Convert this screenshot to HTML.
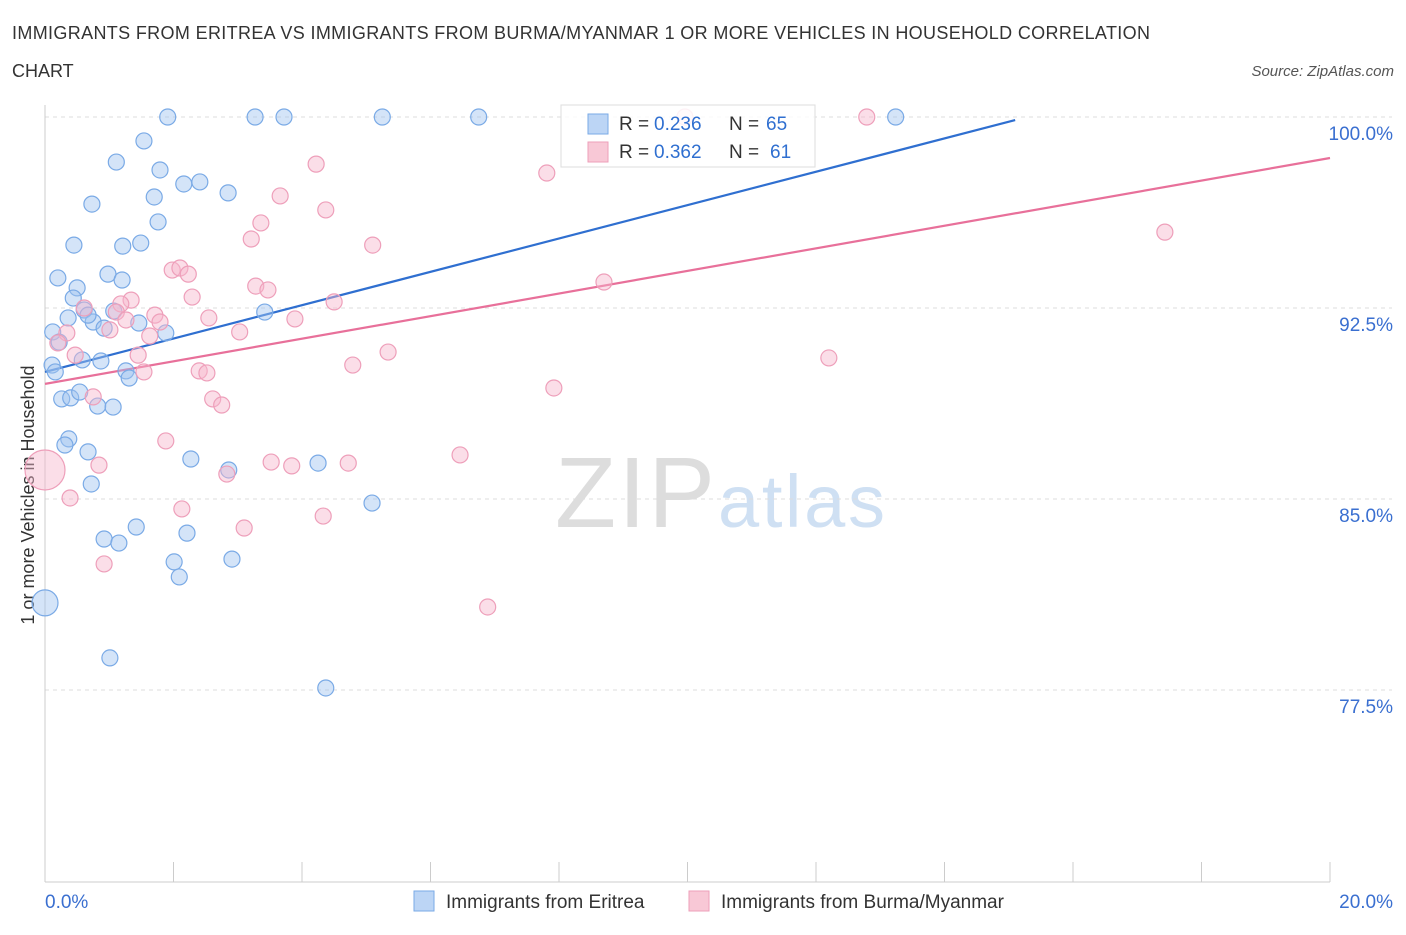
<!DOCTYPE html>
<html><head><meta charset="utf-8"><style>
body{margin:0;background:#fff;font-family:"Liberation Sans",sans-serif;}
svg text{font-family:"Liberation Sans",sans-serif;}
</style></head><body>
<svg id="chart" width="1406" height="930">
<text x="12" y="39" font-size="18" fill="#333" textLength="1138">IMMIGRANTS FROM ERITREA VS IMMIGRANTS FROM BURMA/MYANMAR 1 OR MORE VEHICLES IN HOUSEHOLD CORRELATION</text>
<text x="12" y="77" font-size="18" fill="#333">CHART</text>
<text x="1394" y="76" font-size="15" fill="#555" font-style="italic" text-anchor="end">Source: ZipAtlas.com</text>
<text x="34" y="495" font-size="18" fill="#333" text-anchor="middle" transform="rotate(-90 34 495)">1 or more Vehicles in Household</text>
<text x="555" y="527" font-size="100" fill="#ddd" font-family="Liberation Serif" textLength="160">ZIP</text>
<text x="718" y="527" font-size="74" fill="#cfe0f3" textLength="167">atlas</text>
<g id="grid"></g><g id="axes"></g><g id="lines"></g><g id="pts"></g>
<g>
<rect x="561" y="105" width="254" height="62" fill="rgba(255,255,255,0.85)" stroke="#ddd"/>
<rect x="588" y="114" width="20" height="20" fill="#bcd5f5" stroke="#7aaae6"/>
<text x="619" y="130" font-size="19" fill="#333">R =</text>
<text x="654" y="130" font-size="19" fill="#2f6fd0">0.236</text>
<text x="729" y="130" font-size="19" fill="#333">N =</text>
<text x="766" y="130" font-size="19" fill="#2f6fd0">65</text>
<rect x="588" y="142" width="20" height="20" fill="#f8c8d6" stroke="#ee9fba"/>
<text x="619" y="158" font-size="19" fill="#333">R =</text>
<text x="654" y="158" font-size="19" fill="#2f6fd0">0.362</text>
<text x="729" y="158" font-size="19" fill="#333">N =</text>
<text x="770" y="158" font-size="19" fill="#2f6fd0">61</text>
</g>
<g>
<rect x="414" y="891" width="20" height="20" fill="#bcd5f5" stroke="#7aaae6"/>
<text x="446" y="908" font-size="19" fill="#333">Immigrants from Eritrea</text>
<rect x="689" y="891" width="20" height="20" fill="#f8c8d6" stroke="#ee9fba"/>
<text x="721" y="908" font-size="19" fill="#333">Immigrants from Burma/Myanmar</text>
</g>
</svg>
<script>
const yTicks=[100,92.5,85,77.5];
const yTickLabels=["100.0%","92.5%","85.0%","77.5%"];
const xTickLabels=["0.0%","20.0%"];
const blueX=[1.91,3.27,3.72,5.25,6.75,13.24,1.54,1.11,1.79,2.16,2.41,2.85,1.70,0.73,1.76,0.45,1.21,1.49,0.20,0.98,1.20,0.50,0.44,0.61,0.36,0.75,0.67,1.07,0.92,1.46,1.88,3.42,0.12,0.22,0.11,0.16,0.58,0.87,1.26,1.31,0.26,0.40,0.82,1.06,0.54,0.37,0.31,0.67,0.72,2.27,2.86,4.25,5.09,1.42,0.92,1.15,2.21,2.01,2.91,2.09,1.01,4.37];
const blueY=[100,100,100,100,100,100,99.06,98.23,97.92,97.37,97.45,97.02,96.86,96.58,95.88,94.97,94.93,95.05,93.68,93.83,93.60,93.29,92.89,92.42,92.11,91.95,92.22,92.38,91.71,91.91,91.52,92.34,91.56,91.16,90.26,89.99,90.46,90.42,90.03,89.75,88.93,88.97,88.65,88.61,89.20,87.36,87.12,86.85,85.59,86.57,86.14,86.41,84.84,83.90,83.43,83.27,83.66,82.53,82.64,81.94,78.76,77.58];
const pinkX=[9.96,12.79,4.22,7.81,3.66,4.37,3.36,3.21,5.10,17.43,1.98,2.10,2.23,3.28,3.47,8.70,2.29,1.34,1.18,4.50,0.61,1.11,1.71,1.79,1.26,1.01,2.55,3.89,1.63,3.03,0.34,0.20,5.34,1.45,0.47,12.20,4.79,1.54,2.40,2.52,7.92,0.75,2.61,2.75,1.88,6.46,0.84,3.52,3.84,4.72,2.83,0.39,2.13,4.33,3.10,0.92,6.89];
const pinkY=[100,100,98.15,97.80,96.90,96.35,95.84,95.21,94.97,95.48,93.99,94.07,93.83,93.36,93.21,93.52,92.93,92.81,92.66,92.74,92.50,92.34,92.22,91.95,92.03,91.64,92.11,92.07,91.40,91.56,91.52,91.13,90.77,90.65,90.65,90.54,90.26,89.99,90.03,89.95,89.36,89.01,88.93,88.69,87.28,86.73,86.33,86.45,86.30,86.41,85.98,85.04,84.61,84.33,83.86,82.45,80.76];
const bigBlue=[[0,80.92]];
const bigPink=[[0,86.14]];
const blueLine=[[0,89.99],[15.10,99.88]];
const pinkLine=[[0,89.52],[20,98.39]];
const NS="http://www.w3.org/2000/svg";
const X=v=>45+v/20*1285, Y=v=>117+(100-v)/7.5*191;
function mk(t,a,p){const e=document.createElementNS(NS,t);for(const k in a)e.setAttribute(k,a[k]);p.appendChild(e);return e;}
const grid=document.getElementById('grid'),axes=document.getElementById('axes');
yTicks.forEach((t,i)=>{
 const l=mk('line',{x1:45,x2:1392,y1:Y(t),y2:Y(t),stroke:'#ddd','stroke-dasharray':'4 4'},grid);
 
 
 const tx=mk('text',{x:1393,y:Y(t)+23,'font-size':19,fill:'#3a6fd0','text-anchor':'end'},axes);
 tx.textContent=yTickLabels[i];
 
 
});
mk('line',{x1:45,x2:45,y1:105,y2:882,stroke:'#ccc'},axes);
mk('line',{x1:45,x2:1330,y1:882,y2:882,stroke:'#ccc'},axes);
for(let i=0;i<=10;i++){const t=mk('line',{x1:X(i*2),x2:X(i*2),y1:862,y2:882,stroke:'#ccc'},axes);
 
 }
[[0,'start',45],[20,'end',1393]].forEach((d,i)=>{const tx=mk('text',{x:d[2],y:908,'font-size':19,fill:'#3a6fd0','text-anchor':d[1]},axes);tx.textContent=xTickLabels[i];
 
 });
const pts=document.getElementById('pts');
function dot(x,y,r,f,s,n){const c=mk('circle',{cx:X(x),cy:Y(y),r:r,fill:f,stroke:s,'stroke-width':1.2},pts);
 
 }
const bf='rgba(160,195,240,0.45)',bs='#7aaae6',pf='rgba(246,182,204,0.45)',ps='#ee9fba';
blueX.forEach((x,i)=>dot(x,blueY[i],8,bf,bs,'eritrea-point'));
pinkX.forEach((x,i)=>dot(x,pinkY[i],8,pf,ps,'burma-point'));
bigBlue.forEach(p=>dot(p[0],p[1],13,bf,bs,'eritrea-point'));
bigPink.forEach(p=>dot(p[0],p[1],20,pf,ps,'burma-point'));
const lines=document.getElementById('lines');
const bl=mk('line',{x1:X(blueLine[0][0]),y1:Y(blueLine[0][1]),x2:X(blueLine[1][0]),y2:Y(blueLine[1][1]),stroke:'#2f6fd0','stroke-width':2.2},lines);


const pl=mk('line',{x1:X(pinkLine[0][0]),y1:Y(pinkLine[0][1]),x2:X(pinkLine[1][0]),y2:Y(pinkLine[1][1]),stroke:'#e8709a','stroke-width':2.2},lines);


</script>
</body></html>
